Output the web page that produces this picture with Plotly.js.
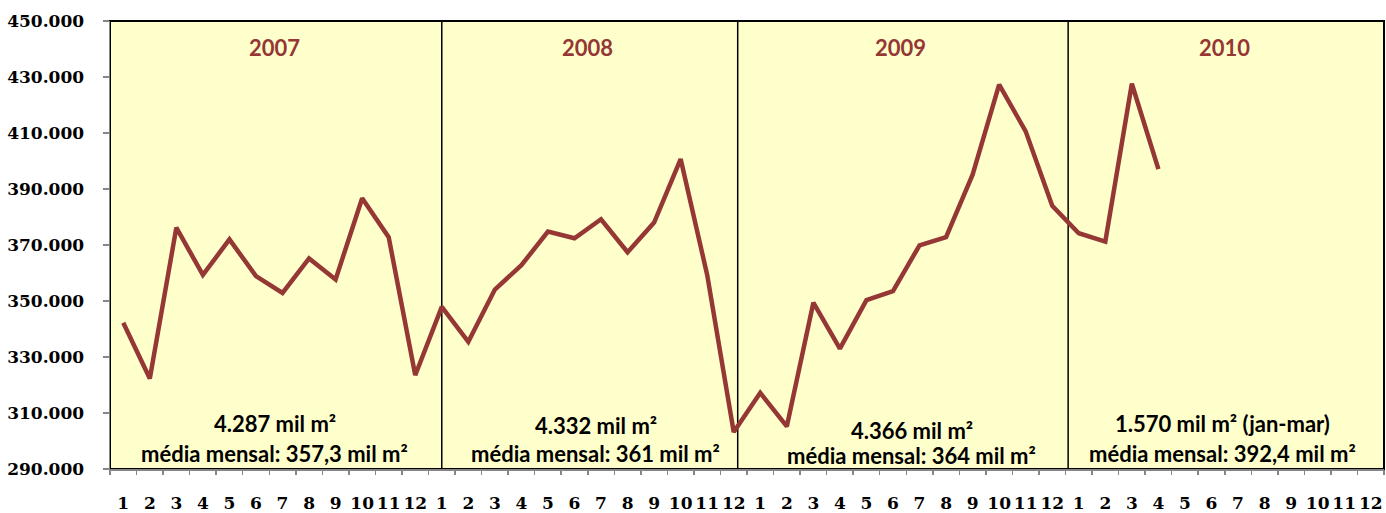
<!DOCTYPE html>
<html>
<head>
<meta charset="utf-8">
<script src="https://cdn.plot.ly/plotly-3.0.1.min.js"></script>
<style>
html,body{margin:0;padding:0;background:#fff;}
#chart{width:1386px;height:513px;}
</style>
</head>
<body>
<div id="chart"></div>
<script>
// Monthly values (m²), Jan 2007 – Apr 2010
const months = ["1","2","3","4","5","6","7","8","9","10","11","12"];
const years = ["2007","2008","2009","2010"];
const values2007 = [342200, 322300, 376200, 359300, 372000, 358900, 352900, 365200, 357700, 386700, 372800, 323500];
const values2008 = [347900, 335400, 354100, 362800, 374800, 372400, 379200, 367400, 378000, 400700, 359300, 303200];
const values2009 = [317200, 305200, 349400, 333000, 350300, 353500, 369900, 372800, 395100, 427300, 410600, 384000];
const values2010 = [374200, 371200, 427600, 397100];
const totalLabels = ["4.287 mil m²", "4.332 mil m²", "4.366 mil m²", "1.570 mil m² (jan-mar)"];
const meanLabels = ["média mensal: 357,3 mil m²", "média mensal: 361 mil m²", "média mensal: 364 mil m²", "média mensal: 392,4 mil m²"];
const yTicks = [290000, 310000, 330000, 350000, 370000, 390000, 410000, 430000, 450000];

const allValues = [].concat(values2007, values2008, values2009, values2010);
const xIdx = allValues.map((_, i) => i);
const nCat = months.length * years.length;
const catIdx = Array.from({length: nCat}, (_, i) => i);
const catLabels = catIdx.map(i => months[i % 12]);
const boundaries = Array.from({length: nCat + 1}, (_, i) => i - 0.5);

const lineColor = "#953735";
const yTickFont = {family: "DejaVu Serif", size: 17, color: "#000", weight: "bold"};
const xTickFont = {family: "DejaVu Serif", size: 17, color: "#000", weight: "bold"};
const textFont = {family: "Lato", size: 22, color: "#000", weight: "bold"};
const yearFont = {family: "Lato", size: 22, color: lineColor, weight: "bold"};

const traces = [
  {x: xIdx, y: allValues, type: "scatter", mode: "lines",
   line: {color: lineColor, width: 4.5}, hoverinfo: "y", showlegend: false},
  {x: [0], y: [null], xaxis: "x2", type: "scatter", mode: "lines", showlegend: false, hoverinfo: "skip"}
];

// Annotation placement (data coords)
const yearX = [5.7, 17.5, 29.3, 41.5];
const totX = [5.7, 17.8, 29.7, 41.4];
const totY = [306300, 305700, 303600, 306300];
const meanY = [295600, 295600, 294700, 295600];
const annotations = [];
years.forEach((yr, i) => {
  annotations.push({x: yearX[i], y: 440500, xref: "x", yref: "y", text: yr, showarrow: false, font: yearFont});
  annotations.push({x: totX[i], y: totY[i], xref: "x", yref: "y", text: totalLabels[i], showarrow: false, font: textFont});
  annotations.push({x: totX[i], y: meanY[i], xref: "x", yref: "y", text: meanLabels[i], showarrow: false, font: textFont});
});

const dividers = [12.0, 23.15, 35.6];
const shapes = [
  {type: "rect", xref: "paper", yref: "paper", x0: 0, x1: 1, y0: 0, y1: 1,
   fillcolor: "#FFFFCC", line: {color: "#000", width: 2}, layer: "below"}
];
dividers.forEach(d => shapes.push({type: "line", xref: "x", yref: "paper", x0: d, x1: d, y0: 0, y1: 1,
  line: {color: "#000", width: 1.5}, layer: "below"}));

const layout = {
  width: 1386, height: 513,
  margin: {l: 110, r: 2, t: 21, b: 44},
  paper_bgcolor: "#fff", plot_bgcolor: "#FFFFCC",
  separators: ",.",
  showlegend: false,
  xaxis: {
    range: [-0.5, nCat - 0.5], tickmode: "array", tickvals: catIdx, ticktext: catLabels,
    ticks: "", showgrid: false, zeroline: false, showline: true, linecolor: "#868686", linewidth: 1.5,
    tickfont: xTickFont, ticklabelstandoff: 18, fixedrange: true
  },
  xaxis2: {
    overlaying: "x", anchor: "y", side: "bottom", range: [-0.5, nCat - 0.5],
    tickmode: "array", tickvals: boundaries, showticklabels: false,
    ticks: "outside", ticklen: 5, tickwidth: 1.5, tickcolor: "#868686",
    showgrid: false, zeroline: false, showline: false
  },
  yaxis: {
    range: [290000, 450000], tickmode: "array", tickvals: yTicks, tickformat: ",.0f",
    ticks: "outside", ticklen: 6, tickwidth: 1.5, tickcolor: "#868686",
    showgrid: false, zeroline: false, showline: true, linecolor: "#868686", linewidth: 1.5,
    tickfont: yTickFont, ticklabelstandoff: 15
  },
  annotations: annotations,
  shapes: shapes
};

Plotly.newPlot("chart", traces, layout, {displayModeBar: false, staticPlot: true});
</script>
</body>
</html>
